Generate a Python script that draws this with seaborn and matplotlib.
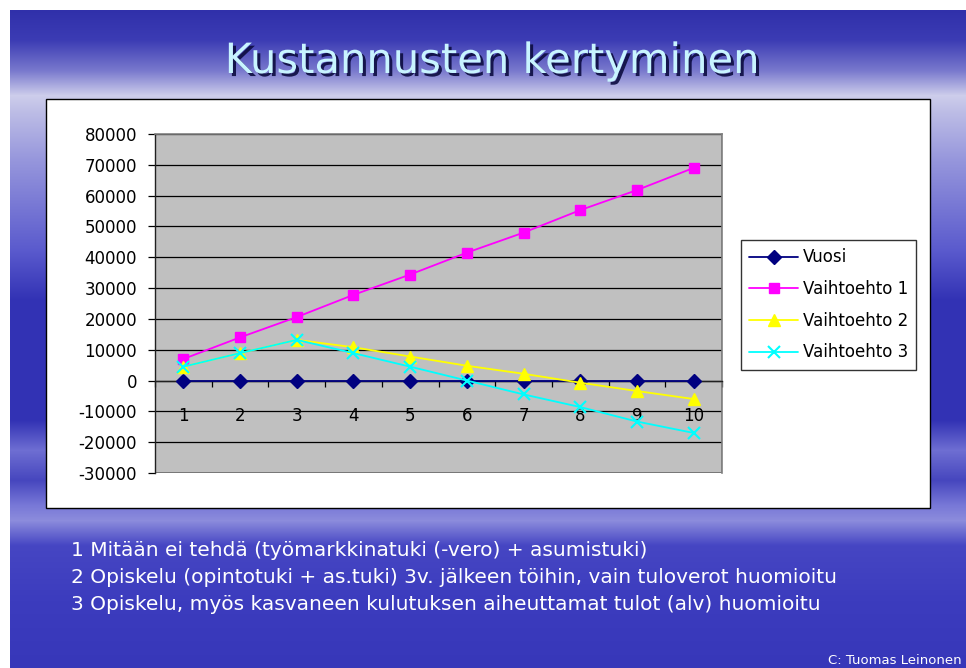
import numpy as np
import pandas as pd
import matplotlib
matplotlib.use("Agg")
import matplotlib.pyplot as plt
import matplotlib.patheffects as pe
import seaborn as sns
from matplotlib.patches import Rectangle
from matplotlib.lines import Line2D

# ---------------- data ----------------
years = [1, 2, 3, 4, 5, 6, 7, 8, 9, 10]
vuosi = [0, 0, 0, 0, 0, 0, 0, 0, 0, 0]
vaihtoehto1 = [7000, 14000, 20600, 27800, 34400, 41500, 48000, 55300, 61800, 69000]
vaihtoehto2 = [4500, 8900, 13200, 10800, 7800, 4800, 2200, -700, -3400, -6000]
vaihtoehto3 = [4500, 8900, 13200, 8900, 4500, 0, -4500, -8600, -13300, -17000]
series_names = ["Vuosi", "Vaihtoehto 1", "Vaihtoehto 2", "Vaihtoehto 3"]
y_ticks = [-30000, -20000, -10000, 0, 10000, 20000, 30000, 40000, 50000, 60000, 70000, 80000]

title = "Kustannusten kertyminen"
notes = [
    "1 Mitään ei tehdä (työmarkkinatuki (-vero) + asumistuki)",
    "2 Opiskelu (opintotuki + as.tuki) 3v. jälkeen töihin, vain tuloverot huomioitu",
    "3 Opiskelu, myös kasvaneen kulutuksen aiheuttamat tulot (alv) huomioitu",
]
credit = "C: Tuomas Leinonen"

df = pd.DataFrame({
    "x": years * 4,
    "y": vuosi + vaihtoehto1 + vaihtoehto2 + vaihtoehto3,
    "series": sum([[n] * len(years) for n in series_names], []),
})

styles = {
    "Vuosi": dict(color="#000080", marker="D", ms=7.5, mew=1.0),
    "Vaihtoehto 1": dict(color="#FF00FF", marker="s", ms=7.5, mew=1.0),
    "Vaihtoehto 2": dict(color="#FFFF00", marker="^", ms=9, mew=1.0),
    "Vaihtoehto 3": dict(color="#00FFFF", marker="x", ms=8, mew=1.5),
}

sns.set_theme(style="white")
plt.rcParams["font.family"] = ["DejaVu Sans"]
plt.rcParams["text.color"] = "black"

W, H = 966, 668
fig = plt.figure(figsize=(W / 100, H / 100), dpi=100)

# ---------------- slide background ----------------
bg = fig.add_axes([0, 0, 1, 1])
bg.set_xlim(0, W)
bg.set_ylim(H, 0)
bg.axis("off")
yy = np.arange(H)
ky = [0, 10, 40, 70, 95, 110, 160, 250, 300, 420, 450, 480, 505, 520, 545, 600, 668]
kr = [48, 48, 60, 120, 205, 190, 150, 90, 50, 50, 110, 70, 120, 140, 70, 60, 55]
kb = [170, 170, 180, 205, 235, 230, 220, 205, 180, 180, 210, 190, 215, 220, 195, 190, 185]
r = np.interp(yy, ky, kr)
b = np.interp(yy, ky, kb)
img = np.zeros((H, W, 3))
img[:, :, 0] = r[:, None] / 255
img[:, :, 1] = r[:, None] / 255
img[:, :, 2] = b[:, None] / 255
img[:10, :, :] = 1.0
img[:, :10, :] = 1.0
bg.imshow(img, extent=[0, W, H, 0], aspect="auto", interpolation="bilinear")

# white chart box
bg.add_patch(Rectangle((46, 99), 884, 409, facecolor="white", edgecolor="black", lw=1.0))

# title with shadow
bg.text(492, 73, title, ha="center", va="baseline", fontsize=30, color="#C8F4FF",
        path_effects=[pe.withSimplePatchShadow(offset=(2.2, -2.2), shadow_rgbFace="#0c0c40",
                                               alpha=0.9)])

for i, line in enumerate(notes):
    bg.text(71, 550 + i * 27.5, line, ha="left", va="center", fontsize=14.5, color="white")
bg.text(962, 660, credit, ha="right", va="center", fontsize=9.5, color="white")

# ---------------- chart ----------------
L, R, T, B = 155, 722, 134, 473
ax = fig.add_axes([L / W, 1 - B / H, (R - L) / W, (B - T) / H])
ax.set_facecolor("#C0C0C0")

for name in series_names:
    st = styles[name]
    sub = df[df["series"] == name]
    sns.lineplot(data=sub, x="x", y="y", ax=ax, color=st["color"], lw=1.3,
                 marker=st["marker"], markersize=st["ms"], markeredgewidth=st["mew"],
                 markeredgecolor=st["color"], markerfacecolor=st["color"],
                 label=name, zorder=3, clip_on=False)

ax.set_xlim(0.5, 10.5)
ax.set_ylim(-30000, 80000)
ax.set_yticks(y_ticks)
ax.set_yticklabels([str(v) for v in y_ticks])
ax.set_xticks(years)
ax.set_xticklabels([str(v) for v in years])
ax.set_xticks([v + 0.5 for v in [0] + years], minor=True)
ax.set_xlabel("")
ax.set_ylabel("")
ax.yaxis.grid(True, color="black", lw=0.9)
ax.xaxis.grid(False)
ax.set_axisbelow(True)

for s in ["top", "right"]:
    ax.spines[s].set_color("#808080")
    ax.spines[s].set_linewidth(1.2)
ax.spines["left"].set_color("#202020")
ax.spines["left"].set_linewidth(1.0)
ax.spines["bottom"].set_position(("data", 0))
ax.spines["bottom"].set_color("#202020")
ax.spines["bottom"].set_linewidth(1.0)
ax.add_patch(Rectangle((0, 0), 1, 1, transform=ax.transAxes, fill=False,
                       edgecolor="#808080", lw=1.2, zorder=0.5))

ax.tick_params(axis="y", which="major", direction="out", length=5, width=0.9,
               color="black", labelcolor="black", labelsize=12, pad=8, left=True)
ax.tick_params(axis="x", which="major", length=0, labelsize=12, labelcolor="black",
               pad=19, bottom=True)
ax.tick_params(axis="x", which="minor", direction="out", length=4, width=0.9,
               color="black", bottom=True)

handles = [Line2D([0], [0], color=styles[n]["color"], lw=1.3, marker=styles[n]["marker"],
                  markersize=styles[n]["ms"], markeredgewidth=styles[n]["mew"],
                  markeredgecolor=styles[n]["color"], markerfacecolor=styles[n]["color"])
           for n in series_names]
leg = ax.legend(handles, series_names, loc="upper left",
                bbox_to_anchor=(741 / W, 1 - 240 / H), bbox_transform=fig.transFigure,
                frameon=True, fancybox=False, shadow=False, fontsize=12,
                handlelength=2.9, handletextpad=0.3, labelspacing=0.82,
                borderpad=0.5, borderaxespad=0)
for t in leg.get_texts():
    t.set_color("black")
leg.get_frame().set_edgecolor("black")
leg.get_frame().set_linewidth(1.0)
leg.get_frame().set_facecolor("white")

fig.savefig("out.png", dpi=100)
